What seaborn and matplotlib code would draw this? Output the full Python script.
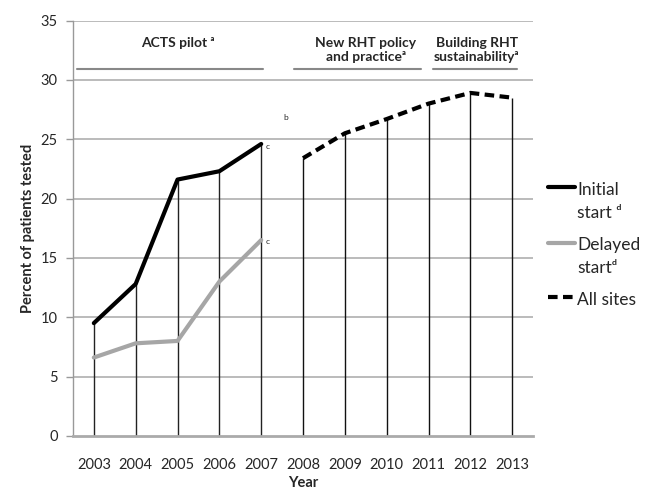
import matplotlib
matplotlib.use("Agg")
import matplotlib.pyplot as plt
from matplotlib.lines import Line2D
import seaborn as sns
import pandas as pd

# values
years_pilot = [2003, 2004, 2005, 2006, 2007]
initial_start = [9.5, 12.8, 21.6, 22.3, 24.6]
delayed_start = [6.6, 7.8, 8.0, 13.0, 16.5]
years_all = [2008, 2009, 2010, 2011, 2012, 2013]
all_sites = [23.4, 25.5, 26.7, 28.0, 28.9, 28.5]
year_ticks = list(range(2003, 2014))
y_ticks = [0, 5, 10, 15, 20, 25, 30, 35]

pilot = pd.DataFrame({"year": years_pilot, "initial": initial_start, "delayed": delayed_start})
later = pd.DataFrame({"year": years_all, "all": all_sites})

sns.set_style("white")
plt.rcParams["font.family"] = ["Lato", "DejaVu Sans"]

fig = plt.figure(figsize=(6.51, 5.01), dpi=100)
ax = fig.add_axes([0.112, 0.13, 0.707, 0.829])

grid_c = "#b5b5b5"
for v in y_ticks[1:]:
    ax.axhline(v, color=grid_c, lw=1.3, zorder=0)

# drop lines from the points down to zero
ax.vlines(pilot["year"], 0, pilot[["initial", "delayed"]].max(axis=1), color="#222222", lw=1, zorder=1)
ax.vlines(later["year"], 0, later["all"], color="#111111", lw=1, zorder=1)

dash = (0, (2.3, 1.3))
sns.lineplot(data=pilot, x="year", y="initial", ax=ax, color="black", lw=3, zorder=3)
sns.lineplot(data=pilot, x="year", y="delayed", ax=ax, color="#a6a6a6", lw=3, zorder=3)
sns.lineplot(data=later, x="year", y="all", ax=ax, color="black", lw=3, zorder=3, linestyle=dash)

ax.set_xlim(2002.5, 2013.5)
ax.set_ylim(0, 35)
ax.set_xticks(year_ticks)
ax.set_yticks(y_ticks)
ax.tick_params(axis="x", length=0, pad=16, labelsize=10.5)
ax.tick_params(axis="y", length=5, width=1, color="#999999", direction="out", pad=6, labelsize=10.5, left=True)
for s in ["top", "right"]:
    ax.spines[s].set_visible(False)
ax.spines["left"].set_color("#999999")
ax.spines["left"].set_linewidth(1)
ax.spines["bottom"].set_color("#aaaaaa")
ax.spines["bottom"].set_linewidth(2)
ax.set_xlabel("Year", fontsize=10.5, fontweight="bold", labelpad=3)
ax.set_ylabel("Percent of patients tested", fontsize=10.5, fontweight="bold", labelpad=4)

# phase brackets at the top
phase_c = "#888888"
ax.plot([2002.6, 2007.04], [30.9, 30.9], color=phase_c, lw=1.5, clip_on=False)
ax.plot([2007.78, 2010.82], [30.9, 30.9], color=phase_c, lw=1.5, clip_on=False)
ax.plot([2011.1, 2013.12], [30.9, 30.9], color=phase_c, lw=1.5, clip_on=False)
ax.text(2005.0, 33.1, "ACTS pilot \u1d43", ha="center", va="center", fontsize=10, fontweight="bold")
ax.text(2009.5, 32.5, "New RHT policy\nand practice\u1d43", ha="center", va="center",
        fontsize=10, fontweight="bold", linespacing=1.15)
ax.text(2012.15, 32.5, "Building RHT\nsustainability\u1d43", ha="center", va="center",
        fontsize=10, fontweight="bold", linespacing=1.15)

ax.text(2007.1, 24.4, "c", fontsize=6, va="center")
ax.text(2007.1, 16.4, "c", fontsize=6, va="center")
ax.text(2007.52, 26.8, "b", fontsize=6, va="center")

# legend drawn by hand so the line sits beside the first text line
def fy(py):
    return 1 - py / 501

def fx(px):
    return px / 651

fig.add_artist(Line2D([fx(548), fx(575)], [fy(187), fy(187)], color="black", lw=3))
fig.add_artist(Line2D([fx(548), fx(575)], [fy(243), fy(243)], color="#a6a6a6", lw=3))
fig.add_artist(Line2D([fx(548), fx(575)], [fy(297), fy(297)], color="black", lw=3, linestyle=dash))
fig.text(fx(577), fy(190), "Initial", fontsize=12.5, va="center")
fig.text(fx(577), fy(213), "start \u1d48", fontsize=12.5, va="center")
fig.text(fx(577), fy(245), "Delayed", fontsize=12.5, va="center")
fig.text(fx(577), fy(268), "start\u1d48", fontsize=12.5, va="center")
fig.text(fx(577), fy(300), "All sites", fontsize=12.5, va="center")

fig.savefig("out.png", dpi=100)
